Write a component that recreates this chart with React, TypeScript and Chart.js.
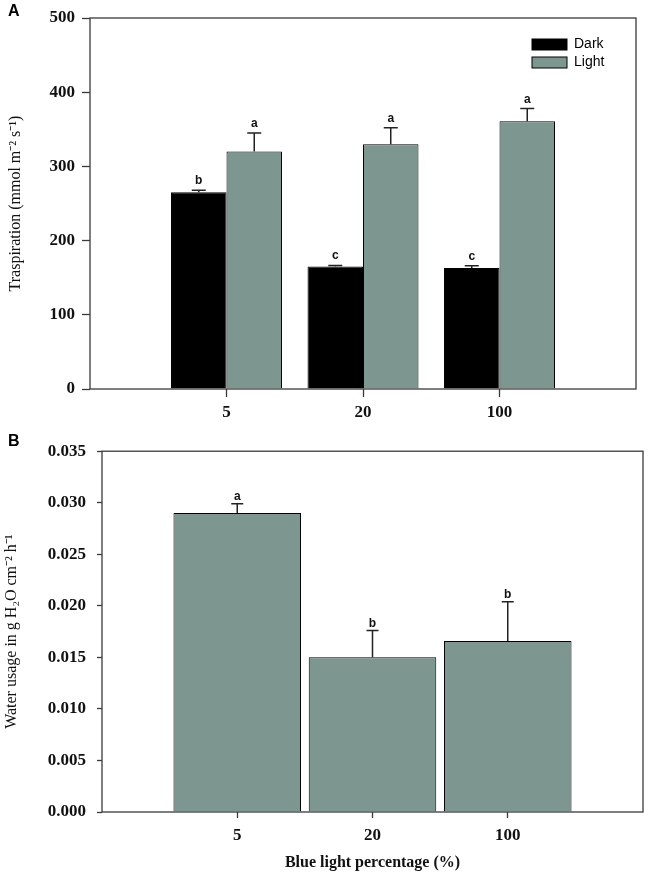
import React, { useEffect, useRef } from 'react';
import { Chart, registerables } from 'chart.js';

Chart.register(...registerables);

// ---- data ----
const categories = ['', '5', '20', '100', ''];
const darkValues = [null, 265, 165, 163, null];
const darkErrors = [null, 3, 1.5, 3, null];
const darkLetters = ['', 'b', 'c', 'c', ''];
const lightValues = [null, 320, 330, 361, null];
const lightErrors = [null, 25, 22, 17, null];
const lightLetters = ['', 'a', 'a', 'a', ''];
const usageValues = [null, 0.029, 0.015, 0.0166, null];
const usageErrors = [null, 0.0009, 0.0026, 0.0038, null];
const usageLetters = ['', 'a', 'b', 'b', ''];
const seriesNames = ['Dark', 'Light'];

const DARK = '#000000';
const GRAY = '#7e9690';
const AXIS = '#3a3a3a';
const SERIF = "'Liberation Serif', 'Times New Roman', serif";
const SANS = "'Liberation Sans', Arial, sans-serif";

const decorPlugin = {
  id: 'decor',
  afterDatasetsDraw(chart: any, _args: any, opts: any) {
    const { ctx, chartArea } = chart;
    const yScale = chart.scales.y;
    ctx.save();
    // error bars + letters
    chart.data.datasets.forEach((ds: any, i: number) => {
      const meta = chart.getDatasetMeta(i);
      const errs = opts.errors[i];
      const letters = opts.letters[i];
      meta.data.forEach((bar: any, j: number) => {
        const v = ds.data[j];
        if (v === null || v === undefined) return;
        const e = errs[j] || 0;
        const yTop = yScale.getPixelForValue(v + e);
        ctx.strokeStyle = '#222';
        ctx.lineWidth = 1.5;
        ctx.beginPath();
        ctx.moveTo(bar.x, bar.y);
        ctx.lineTo(bar.x, yTop);
        ctx.moveTo(bar.x - opts.cap, yTop);
        ctx.lineTo(bar.x + opts.cap, yTop);
        ctx.stroke();
        ctx.fillStyle = '#111';
        ctx.font = 'bold 12px ' + SANS;
        ctx.textAlign = 'center';
        ctx.textBaseline = 'alphabetic';
        ctx.fillText(letters[j], bar.x, yTop - opts.letterGap);
      });
    });
    // frame
    ctx.strokeStyle = AXIS;
    ctx.lineWidth = 1.3;
    ctx.strokeRect(chartArea.left, chartArea.top, chartArea.right - chartArea.left, chartArea.bottom - chartArea.top);
    ctx.restore();
  },
  afterDraw(chart: any, _args: any, opts: any) {
    const { ctx, chartArea } = chart;
    ctx.save();
    ctx.fillStyle = '#000';
    ctx.font = 'bold 16px ' + SANS;
    ctx.textAlign = 'left';
    ctx.textBaseline = 'middle';
    ctx.fillText(opts.panel, 8, 12);
    if (opts.legend) {
      const lx = chartArea.right - 104;
      const ly = chartArea.top + 21;
      const items = [
        { name: seriesNames[0], color: DARK },
        { name: seriesNames[1], color: GRAY },
      ];
      items.forEach((it, k) => {
        const y = ly + k * 18;
        ctx.fillStyle = it.color;
        ctx.fillRect(lx, y, 35, 11);
        ctx.strokeStyle = '#000';
        ctx.lineWidth = 1;
        ctx.strokeRect(lx, y, 35, 11);
        ctx.fillStyle = '#000';
        ctx.font = '14px ' + SANS;
        ctx.textBaseline = 'middle';
        ctx.fillText(it.name, lx + 42, y + 5.5);
      });
    }
    ctx.restore();
  },
};

function hideEdgeTicks(c: any) {
  return c.index === 0 || c.index === categories.length - 1 ? 'rgba(0,0,0,0)' : AXIS;
}

function makeTranspiration(canvas: HTMLCanvasElement) {
  return new Chart(canvas, {
    type: 'bar',
    data: {
      labels: categories,
      datasets: [
        { label: seriesNames[0], data: darkValues as any, backgroundColor: DARK, borderColor: '#000', borderWidth: 1 },
        { label: seriesNames[1], data: lightValues as any, backgroundColor: GRAY, borderColor: '#000', borderWidth: 1 },
      ],
    },
    options: {
      animation: false,
      responsive: false,
      layout: { padding: { top: 18, right: 14, left: 0, bottom: 0 } },
      datasets: { bar: { categoryPercentage: 0.813, barPercentage: 1.0 } },
      plugins: {
        legend: { display: false },
        tooltip: { enabled: false },
        decor: { errors: [darkErrors, lightErrors], letters: [darkLetters, lightLetters], cap: 7, letterGap: 6, panel: 'A', legend: true },
      } as any,
      scales: {
        x: {
          offset: false,
          afterFit: (s: any) => { s.height = 41; },
          grid: { offset: false, drawOnChartArea: false, drawTicks: true, tickLength: 8, tickColor: hideEdgeTicks, tickWidth: 1.3 },
          border: { display: false },
          ticks: { autoSkip: false, maxRotation: 0, padding: 5, color: '#111', font: { family: SERIF, size: 17, weight: 'bold' } },
        },
        y: {
          min: 0,
          max: 500,
          afterFit: (s: any) => { s.width = 90; },
          grid: { drawOnChartArea: false, drawTicks: true, tickLength: 8, tickColor: AXIS, tickWidth: 1.3 },
          border: { display: false },
          ticks: { stepSize: 100, padding: 7, color: '#111', font: { family: SERIF, size: 17, weight: 'bold' } },
          title: {
            display: true,
            text: 'Traspiration (mmol m⁻² s⁻¹)',
            color: '#111',
            font: { family: SERIF, size: 16, weight: 'normal' },
            padding: { top: 6, bottom: 0 },
          },
        },
      } as any,
    },
    plugins: [decorPlugin as any],
  });
}

function makeUsage(canvas: HTMLCanvasElement) {
  return new Chart(canvas, {
    type: 'bar',
    data: {
      labels: categories,
      datasets: [
        { label: 'Water usage', data: usageValues as any, backgroundColor: GRAY, borderColor: '#000', borderWidth: 1 },
      ],
    },
    options: {
      animation: false,
      responsive: false,
      layout: { padding: { top: 12, right: 3, left: 0, bottom: 0 } },
      datasets: { bar: { categoryPercentage: 0.943, barPercentage: 1.0 } },
      plugins: {
        legend: { display: false },
        tooltip: { enabled: false },
        decor: { errors: [usageErrors], letters: [usageLetters], cap: 6, letterGap: 4, panel: 'B', legend: false },
      } as any,
      scales: {
        x: {
          offset: false,
          afterFit: (s: any) => { s.height = 62; },
          grid: { offset: false, drawOnChartArea: false, drawTicks: true, tickLength: 6, tickColor: hideEdgeTicks, tickWidth: 1.3 },
          border: { display: false },
          ticks: { autoSkip: false, maxRotation: 0, padding: 7, color: '#111', font: { family: SERIF, size: 17, weight: 'bold' } },
          title: {
            display: true,
            text: 'Blue light percentage (%)',
            color: '#111',
            font: { family: SERIF, size: 16, weight: 'bold' },
            padding: { top: 0, bottom: 2 },
          },
        },
        y: {
          min: 0,
          max: 0.035,
          afterFit: (s: any) => { s.width = 102; },
          grid: { drawOnChartArea: false, drawTicks: true, tickLength: 5, tickColor: AXIS, tickWidth: 1.3 },
          border: { display: false },
          ticks: {
            stepSize: 0.005,
            padding: 11,
            color: '#111',
            font: { family: SERIF, size: 17, weight: 'bold' },
            callback: (v: any) => Number(v).toFixed(3),
          },
          title: {
            display: true,
            text: 'Water usage in g H₂O cm⁻² h⁻¹',
            color: '#111',
            font: { family: SERIF, size: 16, weight: 'normal' },
            padding: { top: 2, bottom: 0 },
          },
        },
      } as any,
    },
    plugins: [decorPlugin as any],
  });
}

export default function App() {
  const refA = useRef<HTMLCanvasElement>(null);
  const refB = useRef<HTMLCanvasElement>(null);
  useEffect(() => {
    document.body.style.margin = '0';
    const a = makeTranspiration(refA.current!);
    const b = makeUsage(refB.current!);
    return () => {
      a.destroy();
      b.destroy();
    };
  }, []);
  return (
    <div style={{ position: 'relative', width: 650, height: 874, background: '#fff' }}>
      <canvas ref={refA} width={650} height={430} style={{ position: 'absolute', left: 0, top: 0, width: 650, height: 430 }} />
      <canvas ref={refB} width={650} height={444} style={{ position: 'absolute', left: 0, top: 430, width: 650, height: 444 }} />
    </div>
  );
}
